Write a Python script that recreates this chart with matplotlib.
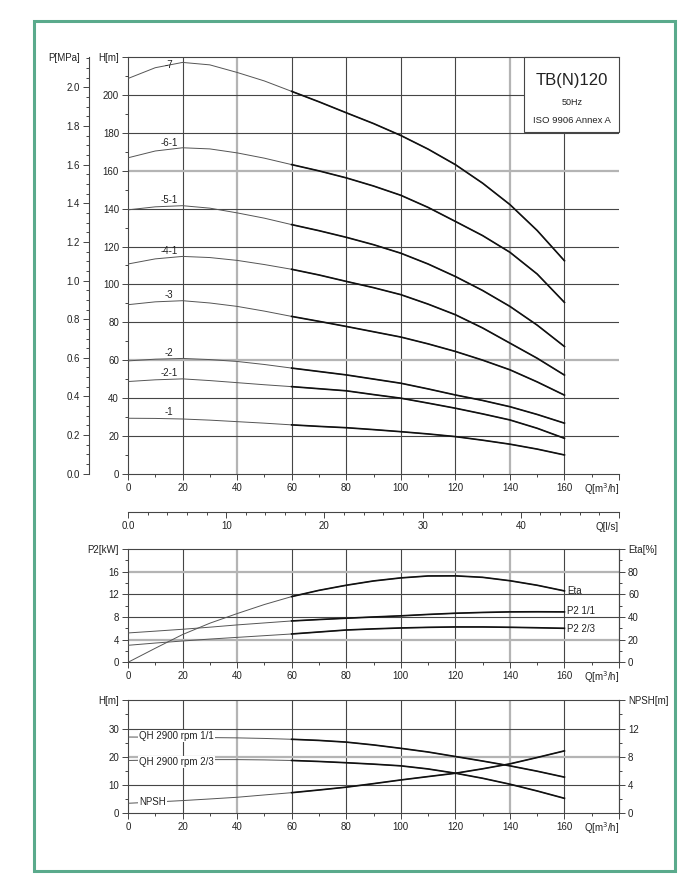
import numpy as np
import matplotlib.pyplot as plt
from matplotlib.ticker import FixedLocator, MultipleLocator
from matplotlib.patches import Rectangle

plt.rcParams['font.family'] = ['Liberation Sans', 'DejaVu Sans']
plt.rcParams['font.size'] = 7

# flow points [m3/h]
q = [0, 10, 20, 30, 40, 50, 60, 70, 80, 90, 100, 110, 120, 130, 140, 150, 160]

# QH curves per stage [m]
h_7 = [208.8, 214.5, 217.3, 216.0, 212.0, 207.5, 202.0, 196.5, 190.7, 185.0, 178.7, 171.5, 163.3, 153.5, 142.2, 128.5, 112.5]
h_6_1 = [166.9, 170.5, 172.2, 171.6, 169.5, 166.7, 163.3, 160.0, 156.3, 152.0, 147.1, 140.7, 133.3, 125.8, 117.0, 105.5, 90.5]
h_5_1 = [139.4, 141.0, 141.6, 140.3, 137.8, 135.0, 131.6, 128.4, 124.9, 121.0, 116.5, 110.8, 104.2, 96.8, 88.4, 78.5, 67.2]
h_4_1 = [110.8, 113.5, 114.8, 114.2, 112.7, 110.5, 108.0, 105.0, 101.6, 98.3, 94.6, 89.6, 84.0, 77.0, 69.0, 61.0, 52.1]
h_3 = [89.3, 90.8, 91.4, 90.2, 88.4, 85.9, 83.1, 80.5, 77.8, 75.0, 72.2, 68.6, 64.6, 60.0, 54.9, 48.5, 41.5]
h_2 = [59.6, 60.5, 60.9, 60.3, 59.3, 57.7, 55.8, 54.0, 52.2, 50.0, 47.8, 44.8, 41.6, 38.7, 35.4, 31.3, 26.7]
h_2_1 = [48.7, 49.6, 50.1, 49.2, 48.1, 47.0, 46.0, 44.9, 43.8, 41.8, 39.9, 37.3, 34.6, 31.6, 28.4, 24.0, 18.7]
h_1 = [29.3, 29.2, 28.9, 28.3, 27.5, 26.7, 25.8, 25.0, 24.3, 23.3, 22.2, 21.0, 19.6, 17.7, 15.6, 13.0, 9.9]
stage_names = ["-7", "-6-1", "-5-1", "-4-1", "-3", "-2", "-2-1", "-1"]

# power [kW] and efficiency [%]
eta = [0, 12.4, 24.5, 34.5, 43.0, 51.0, 58.0, 63.5, 68.0, 71.8, 74.5, 76.2, 76.3, 75.0, 72.0, 68.0, 63.0]
p2_full = [5.18, 5.5, 5.83, 6.2, 6.6, 6.95, 7.3, 7.55, 7.78, 8.0, 8.2, 8.45, 8.66, 8.8, 8.9, 8.92, 8.9]
p2_23 = [3.0, 3.4, 3.76, 4.1, 4.4, 4.7, 5.0, 5.35, 5.7, 5.9, 6.06, 6.17, 6.24, 6.24, 6.18, 6.1, 6.0]

# single stage head [m] and NPSH [m]
qh_full = [27.0, 26.95, 26.9, 26.8, 26.7, 26.5, 26.2, 25.8, 25.2, 24.2, 23.0, 21.7, 20.1, 18.5, 16.8, 14.9, 12.8]
qh_23 = [18.7, 18.85, 18.95, 19.0, 19.0, 18.9, 18.7, 18.35, 17.9, 17.4, 16.8, 15.7, 14.2, 12.4, 10.3, 7.9, 5.3]
npsh = [1.42, 1.6, 1.8, 2.03, 2.27, 2.6, 2.92, 3.3, 3.7, 4.2, 4.72, 5.2, 5.67, 6.3, 7.0, 7.9, 8.84]

W, H = 694, 891
fig = plt.figure(figsize=(W / 100, H / 100), dpi=100)
fig.patch.set_facecolor('white')

DARK = '#454545'
LIGHT = '#b4b4b4'
TXT = '#222222'


def rect(x0, y0, x1, y1):
    return [x0 / W, 1 - y1 / H, (x1 - x0) / W, (y1 - y0) / H]


def style(ax, sides):
    for s in ['left', 'right', 'top', 'bottom']:
        ax.spines[s].set_visible(s in sides)
        ax.spines[s].set_color(DARK)
        ax.spines[s].set_linewidth(0.8)
    ax.tick_params(which='both', direction='out', color=DARK, labelcolor=TXT, width=0.7)
    ax.tick_params(which='major', length=4.5, pad=2)
    ax.tick_params(which='minor', length=2.5)
    ax.patch.set_visible(False)


def grid(ax, xs, ys, light_x, light_y):
    for x in xs:
        lt = x in light_x
        ax.axvline(x, color=LIGHT if lt else DARK, lw=1.6 if lt else 0.8, zorder=0)
    for y in ys:
        lt = y in light_y
        ax.axhline(y, color=LIGHT if lt else DARK, lw=1.6 if lt else 0.8, zorder=0)


def curve(ax, x, y):
    ax.plot(x, y, color='#555555', lw=0.7, zorder=3)
    ax.plot(x[6:], y[6:], color='#111111', lw=1.2, zorder=3)


def qaxis(ax, ypx):
    ax.set_xlim(0, 180)
    ax.xaxis.set_major_locator(FixedLocator(range(0, 181, 20)))
    ax.set_xticklabels([str(v) for v in range(0, 161, 20)] + [''])
    ax.xaxis.set_minor_locator(MultipleLocator(10))
    fig.text(619 / W, 1 - ypx / H, 'Q[m$^3$/h]', ha='right', va='center', color=TXT)


# ---------------- top: QH per stage ----------------
ax1 = fig.add_axes(rect(128, 57.3, 619, 473.7))
style(ax1, ['left', 'bottom', 'top'])
ax1.set_ylim(0, 220)
qaxis(ax1, 489)
ax1.yaxis.set_major_locator(FixedLocator(range(0, 221, 20)))
ax1.set_yticklabels([str(v) for v in range(0, 201, 20)] + ['H[m]'])
ax1.yaxis.set_minor_locator(MultipleLocator(10))
grid(ax1, range(20, 161, 20), range(20, 201, 20), [40, 140], [60, 160])

stages = [h_7, h_6_1, h_5_1, h_4_1, h_3, h_2, h_2_1, h_1]
lab_dy = [0, 4.5, 4.5, 4.5, 4.5, 4.5, 4.5, 4.5]
for name, h, dy in zip(stage_names, stages, lab_dy):
    curve(ax1, q, h)
    ax1.annotate(name, (15, np.interp(15, q, h)), xytext=(0, dy), textcoords='offset points',
                 ha='center', va='center', color=TXT, zorder=4)

ax1.add_patch(Rectangle((145.3, 180.4), 34.7, 39.6, fc='white', ec=DARK, lw=0.8,
                        zorder=5, clip_on=False))
ax1.text(162.65, 207.6, 'TB(N)120', ha='center', va='center', fontsize=12, color=TXT, zorder=6)
ax1.text(162.65, 196.2, '50Hz', ha='center', va='center', fontsize=6.5, color=TXT, zorder=6)
ax1.text(162.65, 186.5, 'ISO 9906 Annex A', ha='center', va='center', fontsize=6.8, color=TXT, zorder=6)

# pressure axis
axP = ax1.twinx()
style(axP, ['left'])
axP.yaxis.set_ticks_position('left')
axP.spines['left'].set_position(('outward', 39 * 0.72))
axP.set_ylim(0, 220 / 102.04)
axP.yaxis.set_major_locator(MultipleLocator(0.2))
axP.yaxis.set_minor_locator(MultipleLocator(0.05))
axP.yaxis.set_major_formatter(lambda v, p: f'{v:.1f}')
fig.text(80 / W, 1 - 58 / H, 'P[MPa]', ha='right', va='center', color=TXT)

# l/s axis
axL = fig.add_axes(rect(128, 511.3, 619, 512.3))
style(axL, ['bottom'])
axL.set_xlim(0, 50)
axL.set_yticks([])
axL.xaxis.set_major_locator(FixedLocator(range(0, 51, 10)))
axL.set_xticklabels(['0.0', '10', '20', '30', '40', ''])
axL.xaxis.set_minor_locator(MultipleLocator(2))
fig.text(619 / W, 1 - 527 / H, 'Q[l/s]', ha='right', va='center', color=TXT)

# ---------------- middle: P2 / Eta ----------------
ax2 = fig.add_axes(rect(128, 549, 619, 662.3))
style(ax2, ['left', 'bottom', 'top', 'right'])
ax2.set_ylim(0, 20)
qaxis(ax2, 677)
ax2.yaxis.set_major_locator(FixedLocator(range(0, 21, 4)))
ax2.set_yticklabels(['0', '4', '8', '12', '16', 'P2[kW]'])
ax2.yaxis.set_minor_locator(MultipleLocator(2))
grid(ax2, range(20, 161, 20), [4, 8, 12, 16], [40, 140], [4, 16])
curve(ax2, q, p2_full)
curve(ax2, q, p2_23)
ax2.text(161, p2_full[-1] + 0.15, 'P2 1/1', ha='left', va='center', color=TXT)
ax2.text(161, p2_23[-1] - 0.05, 'P2 2/3', ha='left', va='center', color=TXT)

ax2r = ax2.twinx()
style(ax2r, ['right'])
ax2r.set_ylim(0, 100)
ax2r.yaxis.set_major_locator(FixedLocator(range(0, 101, 20)))
ax2r.set_yticklabels(['0', '20', '40', '60', '80', 'Eta[%]'])
ax2r.yaxis.set_minor_locator(MultipleLocator(10))
curve(ax2r, q, eta)
ax2r.text(161, eta[-1], 'Eta', ha='left', va='center', color=TXT)

# ---------------- bottom: QH single stage / NPSH ----------------
ax3 = fig.add_axes(rect(128, 700.3, 619, 813.3))
style(ax3, ['left', 'bottom', 'top', 'right'])
ax3.set_ylim(0, 40)
qaxis(ax3, 828)
ax3.yaxis.set_major_locator(FixedLocator(range(0, 41, 10)))
ax3.set_yticklabels(['0', '10', '20', '30', 'H[m]'])
ax3.yaxis.set_minor_locator(MultipleLocator(5))
grid(ax3, range(20, 161, 20), [10, 20, 30], [40, 140], [20])
curve(ax3, q, qh_full)
curve(ax3, q, qh_23)
lab_box = dict(fc='white', ec='none', pad=0.6)
ax3.text(4, qh_full[0] + 0.4, 'QH 2900 rpm 1/1', ha='left', va='center', color=TXT,
         bbox=lab_box, zorder=5)
ax3.text(4, qh_23[0] - 0.6, 'QH 2900 rpm 2/3', ha='left', va='center', color=TXT,
         bbox=lab_box, zorder=5)

ax3r = ax3.twinx()
style(ax3r, ['right'])
ax3r.set_ylim(0, 16)
ax3r.yaxis.set_major_locator(FixedLocator(range(0, 17, 4)))
ax3r.set_yticklabels(['0', '4', '8', '12', 'NPSH[m]'])
ax3r.yaxis.set_minor_locator(MultipleLocator(2))
curve(ax3r, q, npsh)
ax3r.text(4, npsh[0] + 0.15, 'NPSH', ha='left', va='center', color=TXT, bbox=lab_box, zorder=5)

# green frame
fig.patches.append(Rectangle((34 / W, 1 - 871 / H), (675 - 34) / W, (871 - 21) / H,
                             transform=fig.transFigure, fill=False, ec='#5aaa8c', lw=2.2))

fig.savefig('out.png', dpi=100)
